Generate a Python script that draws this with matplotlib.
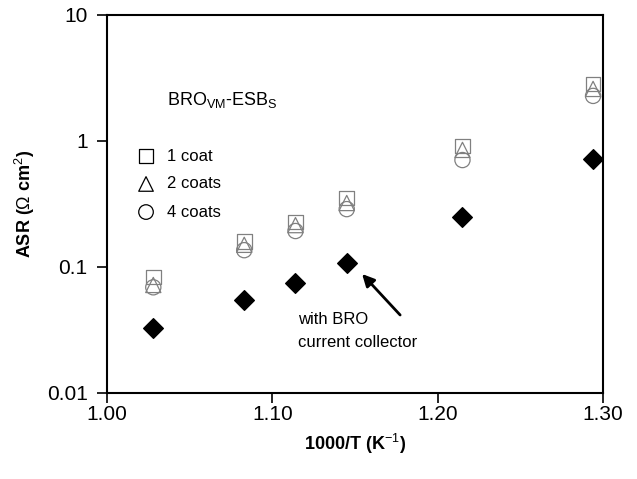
import matplotlib
matplotlib.use("Agg")
import matplotlib.pyplot as plt
from matplotlib.ticker import FixedLocator, FixedFormatter, NullLocator

plt.rcParams["font.family"] = ["Liberation Sans", "DejaVu Sans"]
plt.rcParams["mathtext.fontset"] = "custom"
plt.rcParams["mathtext.rm"] = "Liberation Sans"
plt.rcParams["mathtext.it"] = "Liberation Sans"
plt.rcParams["mathtext.bf"] = "Liberation Sans:bold"

# data
inv_t = [1.028, 1.083, 1.114, 1.145, 1.215, 1.294]
asr_1coat = [0.083, 0.160, 0.228, 0.353, 0.91, 2.83]
asr_2coats = [0.072, 0.150, 0.215, 0.322, 0.85, 2.59]
asr_4coats = [0.069, 0.136, 0.193, 0.288, 0.706, 2.28]
asr_bro = [0.0328, 0.0547, 0.0746, 0.1076, 0.249, 0.72]

x_ticks = [1.00, 1.10, 1.20, 1.30]
x_tick_labels = ["1.00", "1.10", "1.20", "1.30"]
y_ticks = [0.01, 0.1, 1, 10]
y_tick_labels = ["0.01", "0.1", "1", "10"]

GREY = "#808080"

fig = plt.figure(figsize=(6.37, 4.79), dpi=100)
ax = fig.add_axes([107 / 637, 1 - 393 / 479, (603 - 107) / 637, (393 - 15) / 479])

ax.scatter(inv_t, asr_1coat, marker="s", s=110, facecolors="none", edgecolors=GREY, linewidths=0.9, zorder=3)
ax.scatter(inv_t, asr_2coats, marker="^", s=120, facecolors="none", edgecolors=GREY, linewidths=0.9, zorder=3)
ax.scatter(inv_t, asr_4coats, marker="o", s=120, facecolors="none", edgecolors=GREY, linewidths=0.9, zorder=3)
ax.scatter(inv_t, asr_bro, marker="D", s=100, color="black", zorder=4)

ax.set_yscale("log")
ax.set_xlim(1.00, 1.30)
ax.set_ylim(0.01, 10)
ax.xaxis.set_major_locator(FixedLocator(x_ticks))
ax.xaxis.set_major_formatter(FixedFormatter(x_tick_labels))
ax.yaxis.set_major_locator(FixedLocator(y_ticks))
ax.yaxis.set_major_formatter(FixedFormatter(y_tick_labels))
ax.yaxis.set_minor_locator(NullLocator())
ax.xaxis.set_minor_locator(NullLocator())
ax.tick_params(direction="out", length=7, width=1.2, labelsize=15)
ax.tick_params(axis="x", pad=2)
ax.tick_params(axis="y", pad=7)
for sp in ax.spines.values():
    sp.set_linewidth(1.5)

ax.set_xlabel("1000/T (K$^{-1}$)", fontsize=13, fontweight="bold", labelpad=5)
ax.set_ylabel("ASR ($\\Omega$ cm$^{2}$)", fontsize=13, fontweight="bold", labelpad=7)

# legend drawn by hand as in the original
leg_y = [0.76, 0.456, 0.273]
leg_items = [("s", "1 coat"), ("^", "2 coats"), ("o", "4 coats")]
for yv, (mk, lab) in zip(leg_y, leg_items):
    ax.scatter([1.0236], [yv], marker=mk, s=110, facecolors="none", edgecolors="black", linewidths=0.9)
    ax.text(1.0363, yv, lab, fontsize=12, va="center", ha="left")

ax.text(1.036, 2.11, "BRO$_{\\mathrm{VM}}$-ESB$_{\\mathrm{S}}$", fontsize=13, va="center", ha="left")

ax.text(1.1155, 0.044, "with BRO\ncurrent collector", fontsize=12, ha="left", va="top", linespacing=1.7)
ax.annotate("", xy=(1.1543, 0.088), xytext=(1.1773, 0.0416),
            arrowprops=dict(arrowstyle="-|>", color="black", lw=2, mutation_scale=18,
                            shrinkA=0, shrinkB=0))

fig.savefig("out.png", dpi=100)
